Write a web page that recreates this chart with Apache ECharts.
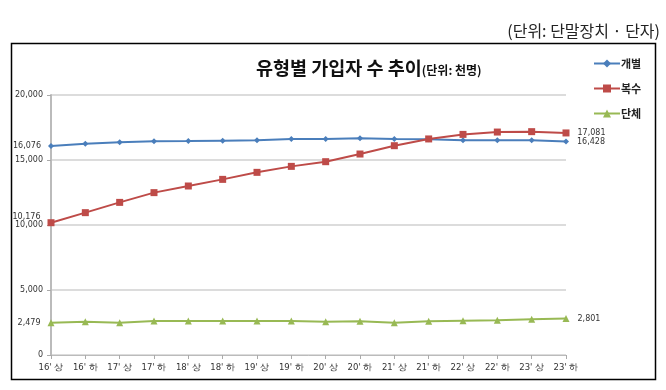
<!DOCTYPE html>
<html><head><meta charset="utf-8">
<script src="https://cdn.jsdelivr.net/npm/echarts@6/dist/echarts.min.js"></script>
<style>html,body{margin:0;padding:0;background:#fff}#c{width:666px;height:390px}</style>
</head><body><div id="c"></div>
<script>
const categories = ["16' 상","16' 하","17' 상","17' 하","18' 상","18' 하","19' 상","19' 하","20' 상","20' 하","21' 상","21' 하","22' 상","22' 하","23' 상","23' 하"];
const individual = [16076,16250,16360,16440,16460,16490,16520,16610,16610,16670,16610,16590,16520,16520,16520,16428];
const multiple = [10176,10950,11740,12490,13000,13510,14050,14510,14870,15460,16100,16620,16970,17150,17180,17081];
const group = [2479,2550,2490,2610,2610,2610,2610,2610,2550,2600,2480,2590,2630,2670,2750,2801];
const yTicks = [0,5000,10000,15000,20000];

const fmt = v => v.toLocaleString('en-US');
const lblFont = {fontFamily:'DejaVu Sans', fontSize:8, color:'#333'};
function endLabels(arr, firstOffsetY){
  return arr.map((v,i)=>{
    if(i===0) return {value:v,label:{show:true,position:'left',distance:7,offset:[0,firstOffsetY||0],formatter:fmt(v),...lblFont}};
    if(i===arr.length-1) return {value:v,label:{show:true,position:'right',distance:8,formatter:fmt(v),...lblFont}};
    return v;
  });
}
const chart = echarts.init(document.getElementById('c'));
chart.setOption({
  animation:false,
  graphic:[
    {type:'rect',shape:{x:11.5,y:43.5,width:644,height:336},style:{fill:'none',stroke:'#000',lineWidth:1.5}},
    {type:'text',right:6,top:23,style:{text:'(단위: 단말장치 · 단자)',font:'16px "Noto Sans CJK KR"',fill:'#222'}}
  ],
  title:{
    text:'{a|유형별 가입자 수 추이}{b|(단위: 천명)}',
    left:251, top:54,
    textStyle:{rich:{
      a:{fontFamily:'Noto Sans CJK KR',fontSize:18.5,fontWeight:'bold',color:'#111'},
      b:{fontFamily:'Noto Sans CJK KR',fontSize:12,fontWeight:'bold',color:'#111',padding:[5,0,0,0]}
    }}
  },
  legend:{
    orient:'vertical', left:588, top:53, itemGap:14, itemWidth:26, itemHeight:10,
    textStyle:{fontFamily:'Noto Sans CJK KR',fontSize:11,fontWeight:'bold',color:'#222',padding:[0,0,0,-4]},
    data:['개별','복수','단체']
  },
  grid:{left:51,right:100,top:95,bottom:35},
  xAxis:{
    type:'category',data:categories,boundaryGap:false,
    axisLine:{lineStyle:{color:'#bbb',width:1}},
    axisTick:{show:true,length:4,lineStyle:{color:'#aaa'}},
    axisLabel:{fontFamily:'DejaVu Sans',fontSize:8.5,color:'#333',margin:8,interval:0}
  },
  yAxis:{
    type:'value',min:0,max:20000,interval:5000,
    axisLine:{show:true,lineStyle:{color:'#bbb',width:2}},
    axisTick:{show:true,length:4,lineStyle:{color:'#aaa'}},
    splitLine:{lineStyle:{color:'#d0d0d0',width:1.5}},
    axisLabel:{fontFamily:'DejaVu Sans',fontSize:8,color:'#333',margin:8,formatter:v=>fmt(v),
      customValues: yTicks}
  },
  series:[
    {name:'개별',type:'line',data:endLabels(individual,0),symbol:'diamond',symbolSize:6,
      itemStyle:{color:'#4A7EBB'},lineStyle:{color:'#4A7EBB',width:2}},
    {name:'복수',type:'line',data:endLabels(multiple,-6),symbol:'rect',symbolSize:7,
      itemStyle:{color:'#BE4B48'},lineStyle:{color:'#BE4B48',width:2}},
    {name:'단체',type:'line',data:endLabels(group,0),symbol:'triangle',symbolSize:7,
      itemStyle:{color:'#98B954'},lineStyle:{color:'#98B954',width:2}}
  ]
});
</script></body></html>
